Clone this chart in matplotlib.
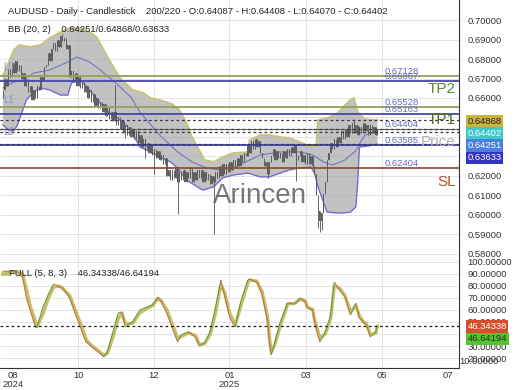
import matplotlib
matplotlib.use("Agg")
import matplotlib.pyplot as plt
from matplotlib.collections import LineCollection
from matplotlib.ticker import FormatStrFormatter
import numpy as np

plt.rcParams['font.family'] = ['Liberation Sans', 'DejaVu Sans']

# daily closes, oldest first (bar index = position in list)
close = [0.664, 0.670, 0.666, 0.675, 0.671,
         0.678, 0.673, 0.679, 0.674, 0.677,
         0.670, 0.673, 0.666, 0.670, 0.663, 0.666,
         0.659, 0.664, 0.660,
         0.666, 0.664, 0.671, 0.669, 0.676,
         0.677, 0.683, 0.679, 0.685, 0.688, 0.684,
         0.690, 0.686, 0.692, 0.689, 0.691,
         0.685, 0.687, 0.671,
         0.674, 0.668, 0.673, 0.666, 0.671, 0.665, 0.668, 0.663,
         0.666, 0.660, 0.664, 0.658, 0.662, 0.656, 0.660, 0.655,
         0.658, 0.653, 0.657, 0.651, 0.655, 0.649, 0.653, 0.648, 0.653,
         0.646, 0.650, 0.644, 0.648, 0.642, 0.646, 0.641, 0.645,
         0.640, 0.644, 0.639, 0.643, 0.637, 0.641,
         0.635, 0.639, 0.634, 0.637, 0.632, 0.636,
         0.631, 0.634, 0.629, 0.633, 0.628, 0.631, 0.626, 0.629,
         0.620, 0.623,
         0.618, 0.623, 0.619, 0.624, 0.617, 0.622,
         0.618, 0.623, 0.617, 0.622, 0.619, 0.624, 0.617, 0.622, 0.618, 0.623, 0.619,
         0.623, 0.617, 0.622, 0.618, 0.621, 0.616, 0.620,
         0.617, 0.622, 0.619, 0.625, 0.620, 0.626, 0.621, 0.626, 0.622, 0.627, 0.623,
         0.628, 0.624, 0.629, 0.625, 0.631, 0.627, 0.632, 0.630,
         0.636, 0.632, 0.638, 0.634, 0.639, 0.635, 0.638,
         0.632, 0.629, 0.625, 0.627, 0.621,
         0.627, 0.630, 0.634, 0.628, 0.633, 0.629, 0.632, 0.627, 0.633, 0.629, 0.634, 0.630,
         0.635, 0.632, 0.636, 0.628,
         0.630, 0.633, 0.627, 0.631, 0.626, 0.632, 0.626, 0.630, 0.625,
         0.621, 0.610, 0.602, 0.597, 0.601,
         0.611, 0.617, 0.628, 0.632,
         0.637, 0.634, 0.639, 0.635, 0.640, 0.637,
         0.643, 0.639, 0.644, 0.640, 0.646, 0.642,
         0.647, 0.642, 0.646, 0.641, 0.645, 0.642,
         0.647, 0.643, 0.646, 0.641, 0.646, 0.642, 0.645, 0.64087, 0.64402]
first_open = 0.6600

# long wicks that stand out (bar index -> price)
wick_high = {33: 0.6928, 62: 0.6667, 195: 0.6492}
wick_low = {68: 0.6395, 79: 0.6292, 84: 0.6210, 97: 0.6005, 117: 0.5903,
            147: 0.6190, 163: 0.6174, 175: 0.5935, 176: 0.5913, 177: 0.5925}

# Bollinger bands (20, 2)
bb_up_x = [0, 2, 6, 9, 15, 21, 26, 32, 37, 43, 48, 52, 56, 59, 65, 72, 78, 82, 87,
           94, 98, 102, 105, 109, 112, 117, 122, 128, 136, 137, 143, 148, 154, 159,
           165, 171, 174, 175, 180, 186, 189, 193, 195, 197, 201, 208]
bb_up = [0.6718, 0.6759, 0.6846, 0.6872, 0.6862, 0.6872, 0.6908, 0.6938, 0.6959,
         0.6959, 0.6938, 0.6913, 0.6846, 0.6795, 0.6703, 0.6641, 0.6626, 0.6600,
         0.6590, 0.6569, 0.6538, 0.6472, 0.6400, 0.6333, 0.6282, 0.6272, 0.6297,
         0.6318, 0.6323, 0.6385, 0.6410, 0.6410, 0.6400, 0.6395, 0.6374, 0.6349,
         0.6349, 0.6487, 0.6497, 0.6523, 0.6554, 0.6590, 0.6600, 0.6528, 0.6492,
         0.64868]
bb_lo_x = [0, 3, 6, 8, 11, 13, 17, 21, 26, 32, 36, 38, 43, 48, 54, 59, 65, 71, 76,
           82, 87, 93, 97, 102, 108, 111, 117, 122, 128, 136, 143, 148, 154, 159,
           165, 171, 173, 175, 177, 180, 186, 189, 193, 196, 197, 198, 203, 208]
bb_lo = [0.6462, 0.6436, 0.6431, 0.6462, 0.6538, 0.6590, 0.6631, 0.6651, 0.6641,
         0.6615, 0.6615, 0.6677, 0.6692, 0.6641, 0.6574, 0.6523, 0.6487, 0.6436,
         0.6349, 0.6323, 0.6297, 0.6272, 0.6241, 0.6179, 0.6144, 0.6128, 0.6144,
         0.6190, 0.6205, 0.6215, 0.6195, 0.6195, 0.6215, 0.6231, 0.6241, 0.6246,
         0.6215, 0.6144, 0.6092, 0.6015, 0.6010, 0.6010, 0.6015, 0.6041, 0.6164,
         0.6349, 0.6354, 0.63633]
bb_mid_x = [0, 6, 11, 17, 26, 36, 41, 48, 54, 62, 71, 76, 87, 97, 105, 113, 120,
            128, 137, 143, 154, 165, 172, 178, 183, 190, 196, 199, 201, 208]
bb_mid = [0.6651, 0.6682, 0.6692, 0.6728, 0.6744, 0.6785, 0.6810, 0.6785, 0.6744,
          0.6682, 0.6605, 0.6528, 0.6410, 0.6323, 0.6272, 0.6241, 0.6231, 0.6241,
          0.6282, 0.6308, 0.6323, 0.6323, 0.6308, 0.6272, 0.6256, 0.6282, 0.6330,
          0.6380, 0.6410, 0.64251]

# horizontal levels
levels = [0.67128, 0.66867, 0.65528, 0.65163, 0.64404, 0.63585, 0.62404]
level_colors = ['#95a05a', '#4646aa', '#95a05a', '#4646aa', '#6a6a6a', '#3c3cb4', '#8a5436']
dashed_levels = [0.64868, 0.64402, 0.64251, 0.63633]
price_ticks = [0.58, 0.59, 0.60, 0.61, 0.62, 0.63, 0.64, 0.65, 0.66, 0.67, 0.68, 0.69, 0.70]

# price tags on the right scale
tag_values = ['0.64868', '0.64402', '0.64251', '0.63633']
tag_colors = ['#c9b43c', '#3ec8c8', '#4a80e0', '#3434c4']
tag_text_colors = ['#222222', 'white', 'white', 'white']

# Full stochastic (5, 8, 3)
stoch_x = [0, 8, 11, 13, 15, 18, 19, 22, 25, 28, 31, 33, 37, 40, 43, 46, 47, 50, 53, 56,
           58, 61, 64, 66, 68, 72, 76, 80, 83, 86, 88, 91, 94, 97, 99, 103, 107, 109, 112, 115,
           118, 121, 123, 126, 129, 132, 136, 137, 141, 144, 147, 148, 149, 151, 154, 157, 158,
           162, 165, 168, 169, 172, 173, 176, 179, 182, 184, 187, 190, 193, 196, 198, 200, 202,
           204, 207, 208]
stoch_k = [92.5, 91.7, 86.7, 70, 60, 45.8, 45.8, 61.7, 72.5, 81.7,
           79.2, 78.3, 70, 57.5, 45.8, 33.3, 32.5, 28.3, 25, 20.8,
           25, 41.7, 57.5, 58.3, 45.8, 50, 60, 62.5, 64.2, 70.8,
           66.7, 57.5, 45, 33.3, 39.2, 41.7, 37.5, 30, 32.5, 41.7,
           61.7, 85, 72.5, 53.3, 45.8, 66.7, 85, 85.8, 83.3, 72.5,
           50, 33.3, 22.5, 33.3, 50, 61.7, 65.8, 65, 70, 66.7,
           61.7, 60, 50, 33.3, 41.7, 55.8, 83.3, 76.7, 70.8, 55.8,
           65.8, 53.3, 50, 47.5, 37.5, 41.7, 46.34338]
stoch_d = [91.0, 92.0, 89.5, 77.0, 64.0, 50.5, 46.5, 56.0, 69.0, 79.0,
           80.0, 78.5, 72.0, 60.5, 49.0, 36.5, 33.5, 29.5, 26.0, 22.5,
           24.0, 37.0, 53.0, 57.5, 48.5, 49.0, 57.5, 61.5, 63.5, 69.5,
           67.5, 60.0, 48.5, 36.5, 38.0, 41.0, 38.5, 31.5, 32.0, 39.5,
           57.0, 81.0, 75.0, 57.0, 47.5, 63.0, 82.5, 85.0, 84.0, 75.0,
           54.0, 37.0, 25.0, 31.0, 47.0, 59.5, 65.0, 65.5, 69.0, 67.5,
           62.5, 60.5, 52.5, 36.5, 40.0, 52.5, 80.0, 78.0, 72.0, 58.5,
           63.5, 55.0, 50.5, 48.0, 39.5, 40.5, 46.64194]
stoch_now = ['46.34338', '46.64194']
stoch_ticks = [20, 30, 40, 50, 60, 70, 80, 90, 100]

month_pos = [5.5, 41.7, 83.9, 125.8, 168.3, 210.6, 247.2]
month_labels = ['08\n2024', '10', '12', '01\n2025', '03', '05', '07']

# ---------------------------------------------------------------
fig = plt.figure(figsize=(5.2, 3.9), dpi=100)
ax = fig.add_axes([0, 0.3308, 0.8827, 0.6692])
ax2 = fig.add_axes([0, 0.0564, 0.8827, 0.2744], sharex=ax)

n = len(close)
x = np.arange(n)
opens = np.array([first_open] + close[:-1])
closes = np.array(close)
highs = np.maximum(opens, closes)
lows = np.minimum(opens, closes)
for i, v in wick_high.items():
    highs[i] = v
for i, v in wick_low.items():
    lows[i] = v

grid_c = '#e4e4e4'
for a in (ax, ax2):
    for p in month_pos[1:-1]:
        a.axvline(p, color=grid_c, lw=0.7, zorder=0)
    a.yaxis.grid(True, color=grid_c, lw=0.7, zorder=0)
    a.set_axisbelow(True)
    for s in ('top', 'left'):
        a.spines[s].set_visible(False)
    a.spines['right'].set_color('#333333')
    a.spines['bottom'].set_color('#333333')
    a.yaxis.tick_right()
    a.tick_params(axis='y', length=0, pad=6, labelsize=6.8, labelcolor='#333333')

# band area
poly_x = list(bb_up_x) + list(bb_lo_x[::-1])
poly_y = list(bb_up) + list(bb_lo[::-1])
ax.fill(poly_x, poly_y, color='#a8a8a8', alpha=0.7, lw=0, zorder=1)
ax.plot(bb_up_x, bb_up, color='#c9c27a', lw=1.3, zorder=2)
ax.plot(bb_lo_x, bb_lo, color='#7a66d2', lw=1.0, zorder=2)
ax.plot(bb_mid_x, bb_mid, color='#6f78c4', lw=0.8, zorder=2)

# candles: thin wicks and narrow bodies
ax.vlines(x, lows, highs, color='#505050', lw=0.6, zorder=3)
ax.bar(x, closes - opens, bottom=opens, width=0.45, color='#5e5e5e',
       lw=0, zorder=3)

# levels
for lv, c in zip(levels, level_colors):
    ax.axhline(lv, color=c, lw=1.3 if c != '#6a6a6a' else 0.8, zorder=4)
    ax.text(212, lv, f'{lv:.5f}', color='#6a6ac8', fontsize=6.8,
            va='bottom', ha='left', zorder=6)
for lv in dashed_levels:
    ax.axhline(lv, color='#3a3a3a', lw=0.9, ls=(0, (2.2, 2.2)), zorder=4)

ax.text(251.5, 0.6646, 'TP2', color='#5a8a32', fontsize=11, ha='right', va='center', zorder=6)
ax.text(251.5, 0.6487, 'TP1', color='#4f6e26', fontsize=11, ha='right', va='center', zorder=6)
ax.text(251.5, 0.6374, 'Price', color='#b4b4b4', fontsize=11, ha='right', va='center', zorder=5)
ax.text(251.5, 0.6169, 'SL', color='#b4532e', fontsize=11, ha='right', va='center', zorder=6)

for lbl, yf in (('L0', 0.724), ('L1', 0.597), ('L2', 0.474)):
    ax.text(0.008, yf, lbl, transform=ax.transAxes, color='#8a94cc', fontsize=7, va='bottom')

ax.text(0.464, 0.222, 'Arincen', transform=ax.transAxes, fontsize=20,
        color='#555555', alpha=0.8, va='baseline', ha='left', zorder=7)

ax.set_xlim(-1.67, 253.3)
ax.set_ylim(0.57641, 0.71026)
ax.set_yticks(price_ticks)
ax.yaxis.set_major_formatter(FormatStrFormatter('%.5f'))
ax.tick_params(axis='x', length=0, labelbottom=False)

trans = ax.get_yaxis_transform()
for k, (t, bc, tc) in enumerate(zip(tag_values, tag_colors, tag_text_colors)):
    ax.annotate(t, xy=(1.0, float(tag_values[0])), xycoords=trans,
                xytext=(6, -8.7 * k - 1), textcoords='offset points',
                fontsize=6.8, color=tc, va='center', ha='left', annotation_clip=False,
                bbox=dict(boxstyle='square,pad=0.18', fc=bc, ec='none'))

# stochastic panel
ax2.plot(stoch_x, stoch_d, color='#c6bd6a', lw=2.4, zorder=3, solid_capstyle='round')
pts = np.column_stack([stoch_x, stoch_k])
segs = np.stack([pts[:-1], pts[1:]], axis=1)
seg_cols = ['#5c9c3a' if b >= a else '#b8703c' for a, b in zip(stoch_k[:-1], stoch_k[1:])]
ax2.add_collection(LineCollection(segs, colors=seg_cols, lw=0.7, zorder=4))
ax2.axhline(stoch_k[-1], color='#222222', lw=0.9, ls=(0, (2.2, 2.2)), zorder=5)

ax2.set_ylim(11.67, 100.83)
ax2.set_yticks(stoch_ticks)
ax2.yaxis.set_major_formatter(FormatStrFormatter('%.5f'))
ax2.text(1.0, 17.5, '10.00000', transform=ax2.get_yaxis_transform(), fontsize=6.8,
         color='#333333', va='center', ha='left', clip_on=False)
ax2.set_xticks(month_pos)
ax2.set_xticklabels(month_labels)
ax2.tick_params(axis='x', length=0, pad=2, labelsize=6.8, labelcolor='#333333')
for lbl in ax2.get_xticklabels():
    lbl.set_linespacing(1.0)

strans = ax2.get_yaxis_transform()
stag_colors = ['#d4502c', '#56c234']
stag_text = ['white', '#1a3a10']
for k, (t, bc, tc) in enumerate(zip(stoch_now, stag_colors, stag_text)):
    ax2.annotate(t, xy=(1.0, float(stoch_now[0])), xycoords=strans,
                 xytext=(6, -8.9 * k), textcoords='offset points',
                 fontsize=6.8, color=tc, va='center', ha='left', annotation_clip=False,
                 bbox=dict(boxstyle='square,pad=0.18', fc=bc, ec='none'))

ax2.plot([0.004, 0.016], [0.88, 0.88], transform=ax2.transAxes, color='#c6bd6a', lw=2)
ax2.plot([0.004, 0.016], [0.885, 0.885], transform=ax2.transAxes, color='#5c9c3a', lw=0.7)
ax2.text(0.019, 0.88, 'FULL (5, 8, 3)    46.34338/46.64194', transform=ax2.transAxes,
         fontsize=6.8, color='#222222', va='center', ha='left')

fig.text(8 / 520, 1 - 12 / 390,
         'AUDUSD - Daily - Candlestick    200/220 - O:0.64087 - H:0.64408 - L:0.64070 - C:0.64402',
         fontsize=6.8, color='#222222', va='center', ha='left')
fig.text(8 / 520, 1 - 30 / 390, 'BB (20, 2)    0.64251/0.64868/0.63633',
         fontsize=6.8, color='#222222', va='center', ha='left')

fig.savefig('out.png', dpi=100)
